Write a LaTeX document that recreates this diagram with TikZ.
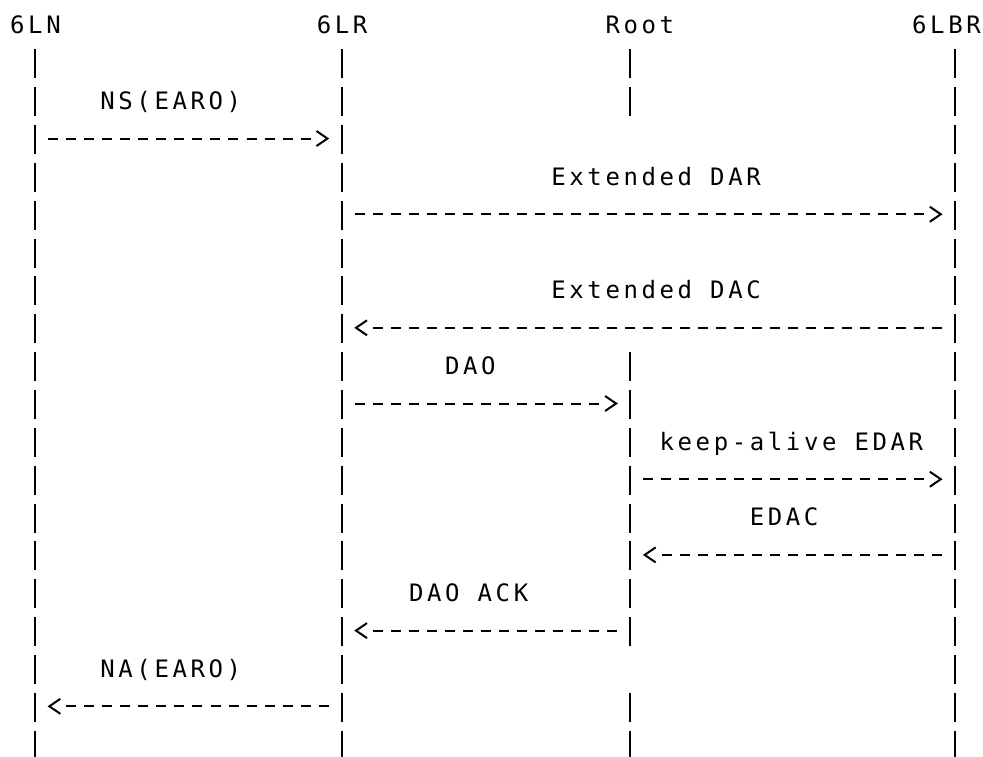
\documentclass[tikz,border=0pt]{standalone}
\usepackage{fontspec}
\setmonofont[LetterSpace=15]{DejaVu Sans Mono}
\usetikzlibrary{arrows.meta,decorations.markings}
\tikzstyle{life} = [line width=2pt, dash pattern=on 29pt off 8.85pt]
\tikzstyle{msg} = [line width=2pt, dash pattern=on 10pt off 8.04pt, postaction={decorate},
decoration={markings, mark=at position 1 with {\pgfsetdash{}{0pt}\pgftransformxshift{18.6pt}\arrow{Straight Barb[length=11pt,width=15pt]}}}]
\tikzstyle{lbl} = [anchor=base west, inner sep=0pt, font=\ttfamily\fontsize{24}{28}\selectfont]

\begin{document}
\begin{tikzpicture}[x=1pt,y=1pt]
        \useasboundingbox (0,0) rectangle (983,-757);

        % Lifeline points, one per row
        \foreach \n/\x in {ln/35.06, lr/341.74, rt/630.38, br/955.1}
            \foreach \r in {1,...,19}
                \coordinate (\n-\r) at (\x, {-25-37.85*\r});

        \node[lbl] (n6ln) at (10,-33.8) {6LN};
        \node[lbl] (n6lr) at (316.68,-33.8) {6LR};
        \node[lbl] (nroot) at (605.32,-33.8) {Root};
        \node[lbl] (n6lbr) at (912,-33.8) {6LBR};

        % Lifelines
        \foreach \n in {ln,lr,br}
            \draw[life] ([yshift=13.5pt]\n-1) -- ([yshift=-15.5pt]\n-19);
        \draw[life] ([yshift=13.5pt]rt-1) -- ([yshift=-15.5pt]rt-2);
        \draw[life] ([yshift=13.5pt]rt-9) -- ([yshift=-15.5pt]rt-16);
        \draw[life] ([yshift=13.5pt]rt-18) -- ([yshift=-15.5pt]rt-19);

        % Labels
        \node[lbl] (ns) at (100.2,-109.5) {NS(EARO)};
        \node[lbl] (edar) at (551.2,-185.2) {Extended DAR};
        \node[lbl] (edac) at (551.2,-298.75) {Extended DAC};
        \node[lbl] (dao) at (444.96,-374.45) {DAO};
        \node[lbl] (kaedar) at (659.44,-450.15) {keep-alive EDAR};
        \node[lbl] (kaedac) at (749.64,-525.85) {EDAC};
        \node[lbl] (daoack) at (408.88,-601.55) {DAO ACK};
        \node[lbl] (na) at (100.2,-677.25) {NA(EARO)};

        % Messages
        \draw[msg] ([xshift=13pt]ln-3) -- ([xshift=-31.1pt]lr-3);
        \draw[msg] ([xshift=13pt]lr-5) -- ([xshift=-31.1pt]br-5);
        \draw[msg] ([xshift=-13pt]br-8) -- ([xshift=31.1pt]lr-8);
        \draw[msg] ([xshift=13pt]lr-10) -- ([xshift=-31.1pt]rt-10);
        \draw[msg] ([xshift=13pt]rt-12) -- ([xshift=-31.1pt]br-12);
        \draw[msg] ([xshift=-13pt]br-14) -- ([xshift=31.1pt]rt-14);
        \draw[msg] ([xshift=-13pt]rt-16) -- ([xshift=31.1pt]lr-16);
        \draw[msg] ([xshift=-13pt]lr-18) -- ([xshift=31.1pt]ln-18);
\end{tikzpicture}
\end{document}
